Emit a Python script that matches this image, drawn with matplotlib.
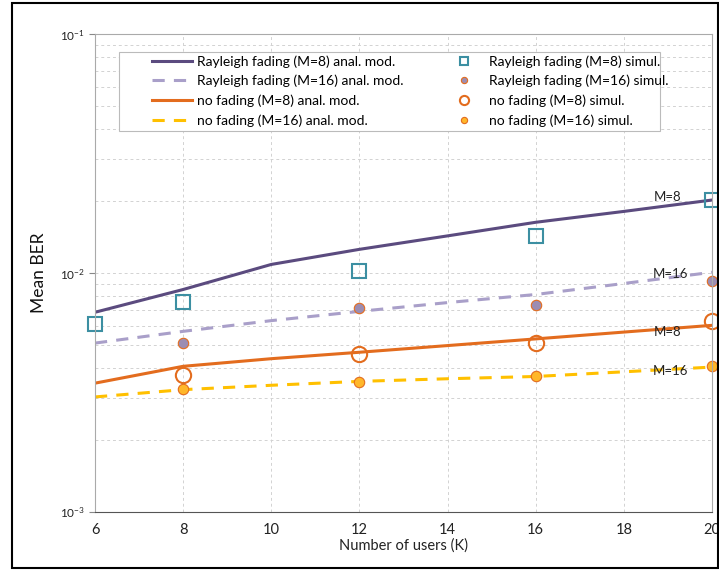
import matplotlib
matplotlib.use("Agg")
import matplotlib.pyplot as plt
from matplotlib.patches import Rectangle

plt.rcParams['font.family'] = ['Lato', 'DejaVu Sans']

# ---- data ----
users_line = [6, 8, 10, 12, 14, 16, 18, 20]
rayleigh_m8_anal = [0.00685, 0.00853, 0.01086, 0.01256, 0.0143, 0.0163, 0.0181, 0.0202]
rayleigh_m16_anal = [0.00509, 0.0057, 0.00632, 0.00691, 0.00752, 0.00813, 0.00904, 0.01007]
nofade_m8_anal = [0.00346, 0.00407, 0.00438, 0.00466, 0.00497, 0.0053, 0.00566, 0.00604]
nofade_m16_anal = [0.00303, 0.00325, 0.00339, 0.00352, 0.00361, 0.00369, 0.00386, 0.00404]

users_sim_r8 = [6, 8, 12, 16, 20]
rayleigh_m8_sim = [0.00612, 0.00755, 0.0102, 0.01426, 0.0202]
users_sim = [8, 12, 16, 20]
rayleigh_m16_sim = [0.00509, 0.00715, 0.00738, 0.00924]
nofade_m8_sim = [0.00375, 0.00458, 0.00509, 0.00632]
nofade_m16_sim = [0.00327, 0.00349, 0.00369, 0.0041]

labels_anal = ["Rayleigh fading (M=8) anal. mod.", "Rayleigh fading (M=16) anal. mod.",
               "no fading (M=8) anal. mod.", "no fading (M=16) anal. mod."]
labels_sim = ["Rayleigh fading (M=8) simul.", "Rayleigh fading (M=16) simul.",
              "no fading (M=8) simul.", "no fading (M=16) simul."]
annot_texts = ["M=8", "M=16", "M=8", "M=16"]
annot_x = [19.0, 19.05, 19.0, 19.05]
annot_y = [0.0207, 0.00986, 0.00569, 0.0039]

# ---- colours ----
c_purple = "#5B4B7F"
c_lav = "#A99FC9"
c_orange = "#E36C1E"
c_gold = "#FFC000"
c_teal = "#3C8FA2"
c_purfill = "#9C8DB2"
c_goldfill = "#FFB72A"

W, H = 719, 571
fig = plt.figure(figsize=(W/100, H/100), dpi=100)
ax_l, ax_r, ax_t, ax_b = 95, 712, 34, 512
ax = fig.add_axes([ax_l/W, 1-ax_b/H, (ax_r-ax_l)/W, (ax_b-ax_t)/H])

def axx(px):
    return (px - ax_l) / (ax_r - ax_l)

def axy(py):
    return (ax_b - py) / (ax_b - ax_t)

h1, = ax.plot(users_line, rayleigh_m8_anal, color=c_purple, lw=2.2, label=labels_anal[0])
h2, = ax.plot(users_line, rayleigh_m16_anal, color=c_lav, lw=2.2, ls=(0, (4, 3)), label=labels_anal[1])
h3, = ax.plot(users_line, nofade_m8_anal, color=c_orange, lw=2.2, label=labels_anal[2])
h4, = ax.plot(users_line, nofade_m16_anal, color=c_gold, lw=2.2, ls=(0, (4, 3)), label=labels_anal[3])

m1, = ax.plot(users_sim_r8, rayleigh_m8_sim, ls='none', marker='s', ms=10, mfc='none',
              mec=c_teal, mew=1.5, label=labels_sim[0], clip_on=False)
m2, = ax.plot(users_sim, rayleigh_m16_sim, ls='none', marker='o', ms=7.5, mfc=c_purfill,
              mec=c_orange, mew=0.8, label=labels_sim[1], clip_on=False)
m3, = ax.plot(users_sim, nofade_m8_sim, ls='none', marker='o', ms=11, mfc='none',
              mec=c_orange, mew=1.5, label=labels_sim[2], clip_on=False)
m4, = ax.plot(users_sim, nofade_m16_sim, ls='none', marker='o', ms=7.5, mfc=c_goldfill,
              mec=c_orange, mew=0.8, label=labels_sim[3], clip_on=False)

for t, x, y in zip(annot_texts, annot_x, annot_y):
    ax.text(x, y, t, ha='center', va='center', fontsize=9.5, color='#222222')

ax.set_yscale('log')
ax.set_xlim(6, 20)
ax.set_ylim(1e-3, 1e-1)
ax.set_xticks([6, 8, 10, 12, 14, 16, 18, 20])
ax.tick_params(axis='x', length=0, labelsize=10.5, pad=8, colors='#222222')
ax.tick_params(axis='y', which='major', length=4, labelsize=8.5, color='#888888', colors='#222222')
ax.tick_params(axis='y', which='minor', length=0, labelleft=False)

ax.grid(True, which='major', axis='both', ls=(0, (3, 3)), color='#D2D2D2', lw=0.7)
ax.grid(True, which='minor', axis='y', ls=(0, (3, 3)), color='#D2D2D2', lw=0.7)

for s in ['left', 'top', 'right']:
    ax.spines[s].set_color('#AAAAAA')
ax.spines['bottom'].set_color('#555555')

ax.set_xlabel("Number of users (K)", fontsize=10.5, labelpad=1, color='#222222')
ax.set_ylabel("Mean BER", fontsize=12.5, labelpad=9, color='#111111')

# legend frame
frame = Rectangle((axx(119), axy(131)), axx(660) - axx(119), axy(52) - axy(131),
                  transform=ax.transAxes, facecolor='white', edgecolor='#BBBBBB',
                  lw=0.8, zorder=4)
ax.add_patch(frame)

leg_kw = dict(loc='upper left', fontsize=10, frameon=False, borderpad=0,
              borderaxespad=0, labelspacing=0.52)
leg1 = ax.legend(handles=[h1, h2, h3, h4], bbox_to_anchor=(axx(152), axy(55)),
                 handlelength=2.9, handletextpad=0.35, **leg_kw)
leg1.set_zorder(5)
ax.add_artist(leg1)
leg2 = ax.legend(handles=[m1, m2, m3, m4], bbox_to_anchor=(axx(450), axy(55)),
                 handlelength=2.0, handletextpad=0.8, markerscale=0.6, **leg_kw)
leg2.set_zorder(5)

fig.patches.append(Rectangle((12/W, 3/H), 706/W, 565/H, transform=fig.transFigure,
                             fill=False, edgecolor='black', lw=1.5))

fig.savefig("out.png", dpi=100)
